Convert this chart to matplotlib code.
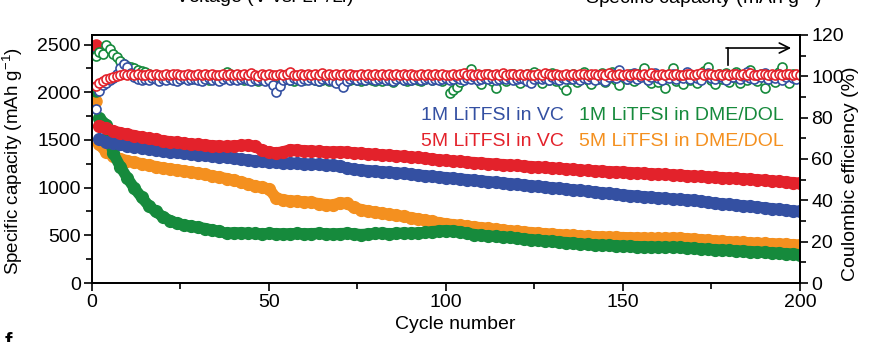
import numpy as np
import matplotlib
matplotlib.use('Agg')
import matplotlib.pyplot as plt
from matplotlib.ticker import MultipleLocator

plt.rcParams['font.family'] = ['Liberation Sans', 'DejaVu Sans']
plt.rcParams['mathtext.fontset'] = 'custom'
plt.rcParams['mathtext.rm'] = 'Liberation Sans'
plt.rcParams['mathtext.default'] = 'regular'

# capacity read every 2nd cycle (2, 4, ..., 200)
cap_cycles = np.arange(2, 201, 2)
cap_5m_vc = [1650, 1620, 1595, 1575, 1560, 1545, 1530, 1515, 1505, 1492,
             1482, 1474, 1466, 1458, 1452, 1446, 1440, 1436, 1432, 1438,
             1442, 1446, 1432, 1392, 1372, 1365, 1375, 1398, 1392, 1388,
             1384, 1380, 1376, 1374, 1377, 1372, 1366, 1360, 1354, 1349,
             1344, 1339, 1334, 1328, 1322, 1316, 1308, 1300, 1292, 1285,
             1279, 1274, 1268, 1263, 1257, 1252, 1247, 1242, 1237, 1232,
             1226, 1221, 1216, 1211, 1206, 1201, 1196, 1190, 1185, 1180,
             1176, 1172, 1168, 1165, 1162, 1158, 1154, 1150, 1146, 1142,
             1138, 1134, 1130, 1126, 1121, 1117, 1113, 1109, 1105, 1101,
             1097, 1093, 1088, 1083, 1077, 1071, 1065, 1059, 1053, 1046]
cap_1m_vc = [1505, 1482, 1466, 1452, 1440, 1428, 1417, 1406, 1396, 1386,
             1377, 1369, 1361, 1353, 1346, 1339, 1331, 1323, 1316, 1307,
             1299, 1291, 1283, 1276, 1268, 1264, 1260, 1256, 1253, 1249,
             1246, 1243, 1239, 1234, 1226, 1204, 1192, 1186, 1179, 1173,
             1167, 1161, 1155, 1149, 1141, 1133, 1126, 1119, 1112, 1105,
             1098, 1091, 1084, 1077, 1070, 1063, 1056, 1049, 1042, 1035,
             1028, 1020, 1013, 1006, 999, 992, 984, 977, 970, 962,
             955, 947, 940, 931, 923, 917, 911, 905, 899, 893,
             887, 881, 876, 872, 868, 858, 846, 838, 831, 824,
             817, 810, 803, 796, 788, 780, 772, 764, 757, 750]
cap_5m_dme = [1455, 1372, 1332, 1302, 1282, 1266, 1251, 1236, 1221, 1207,
              1196, 1186, 1176, 1164, 1152, 1138, 1124, 1110, 1095, 1078,
              1060, 1040, 1018, 1002, 988, 892, 872, 862, 857, 851,
              846, 833, 822, 816, 842, 834, 792, 770, 756, 743,
              731, 720, 709, 698, 686, 673, 660, 646, 633, 621,
              612, 604, 596, 588, 580, 572, 564, 556, 548, 541,
              535, 529, 523, 517, 512, 507, 503, 499, 494, 490,
              487, 484, 481, 479, 477, 475, 473, 471, 469, 467,
              469, 472, 470, 465, 460, 455, 449, 443, 438, 433,
              429, 425, 421, 418, 415, 412, 409, 406, 402, 398]
cap_1m_dme = [1730, 1660, 1360, 1220, 1100, 992, 900, 812, 750, 694,
              655, 628, 608, 596, 585, 571, 556, 542, 520, 528,
              526, 522, 519, 516, 520, 518, 515, 517, 520, 516,
              518, 521, 517, 514, 518, 522, 516, 508, 514, 519,
              522, 518, 520, 524, 521, 526, 530, 538, 546, 550,
              545, 538, 522, 508, 500, 494, 488, 483, 478, 470,
              462, 455, 448, 442, 436, 430, 424, 418, 411, 404,
              400, 397, 394, 391, 388, 385, 382, 380, 378, 376,
              375, 376, 373, 368, 364, 359, 354, 350, 346, 342,
              338, 334, 330, 326, 322, 318, 313, 308, 303, 298]
# first cycle capacity: 5M VC, 1M VC, 1M DME/DOL, 5M DME/DOL
cap_first = [2490, 2440, 2010, 1910]

# coulombic efficiency, every cycle 1..200
ce_cycles = np.arange(1, 201)
ce_5m_vc = [95.5, 97.0, 97.5, 98.5, 99.0, 99.5, 100.0, 100.5, 101.0, 100.5, 101.0, 100.5, 101.2, 100.8, 100.5, 101.0, 100.6, 101.2, 100.8, 100.4,
            101.0, 100.6, 100.9, 101.3, 100.7, 100.4, 101.0, 100.8, 100.5, 101.1, 100.7, 100.9, 100.4, 101.0, 100.8, 100.6, 101.2, 100.7, 100.9, 100.5,
            101.0, 100.7, 101.3, 100.6, 101.5, 100.8, 100.2, 100.9, 100.6, 101.0, 100.4, 100.8, 101.0, 100.6, 101.3, 102.2, 100.8, 100.5, 101.0, 100.7,
            100.9, 100.4, 101.0, 100.8, 101.4, 100.6, 100.9, 100.5, 101.1, 100.7, 101.0, 100.4, 101.2, 100.8, 100.6, 101.0, 100.7, 101.3, 100.5, 100.9,
            100.6, 101.0, 100.8, 101.2, 100.5, 100.9, 100.7, 101.1, 100.4, 101.0, 100.8, 100.6, 101.2, 100.7, 100.9, 100.5, 101.0, 100.8, 101.3, 100.6,
            100.8, 101.2, 100.5, 100.9, 101.4, 100.6, 101.0, 100.7, 101.3, 100.5, 100.9, 101.1, 100.6, 101.0, 100.8, 101.4, 100.5, 100.9, 101.2, 100.7,
            101.0, 100.6, 101.3, 100.8, 100.5, 101.1, 100.7, 101.4, 100.9, 100.6, 101.2, 100.8, 100.5, 101.0, 100.7, 101.3, 100.6, 100.9, 101.1, 100.5,
            100.9, 101.2, 100.6, 101.0, 100.8, 101.5, 100.7, 100.4, 101.1, 100.8, 101.3, 100.6, 100.9, 101.2, 100.5, 101.0, 100.7, 101.4, 100.8, 100.6,
            101.1, 100.7, 101.0, 100.5, 101.3, 100.8, 100.6, 101.2, 100.9, 100.5, 101.0, 101.4, 100.7, 100.9, 101.2, 100.6, 101.0, 100.8, 101.3, 100.5,
            100.9, 101.1, 100.6, 101.0, 100.8, 101.4, 100.7, 100.5, 101.2, 100.9, 100.6, 101.3, 100.8, 101.0, 100.5, 101.2, 100.9, 100.7, 101.1, 100.4]
ce_1m_vc = [84.0, 93.0, 96.0, 97.0, 98.0, 99.0, 101.0, 104.0, 106.0, 104.5, 101.5, 99.5, 98.5, 98.0, 98.8, 98.2, 99.0, 98.5, 97.8, 98.6,
            98.2, 99.0, 98.4, 97.8, 98.6, 99.2, 98.0, 98.5, 98.9, 98.1, 97.7, 98.6, 99.0, 98.3, 98.7, 97.9, 98.5, 99.1, 98.2, 98.8,
            98.0, 98.6, 99.3, 98.4, 97.8, 98.9, 98.2, 98.6, 97.6, 98.4, 96.0, 92.5, 95.5, 98.0, 98.8, 98.3, 99.0, 98.5, 97.9, 98.6,
            98.2, 99.1, 98.4, 97.8, 98.7, 99.0, 98.3, 97.6, 96.8, 97.5, 95.0, 97.8, 98.6, 99.0, 98.4, 98.8, 98.1, 99.2, 98.5, 98.0,
            98.7, 99.1, 98.3, 98.8, 97.9, 98.5, 99.2, 98.4, 98.9, 98.1, 98.6, 99.3, 98.2, 98.7, 99.0, 98.4, 98.8, 98.0, 98.6, 99.1,
            98.3, 98.9, 99.5, 98.6, 98.0, 99.2, 98.7, 99.6, 98.4, 98.9, 99.3, 98.5, 99.0, 98.2, 98.8, 99.4, 98.6, 99.1, 98.3, 98.9,
            99.2, 98.5, 97.8, 96.8, 98.6, 99.4, 98.8, 99.1, 98.4, 99.7, 98.9, 98.3, 99.2, 98.6, 99.5, 98.7, 99.0, 98.2, 99.3, 98.8,
            99.6, 98.4, 100.5, 98.9, 97.9, 99.8, 101.0, 99.2, 103.0, 100.2, 98.6, 99.5, 101.5, 98.8, 99.9, 100.8, 98.4, 99.6, 101.8, 99.1,
            98.2, 100.4, 99.0, 101.2, 98.7, 100.0, 99.3, 102.0, 98.9, 100.6, 99.4, 98.3, 100.9, 101.6, 99.0, 98.6, 100.3, 99.7, 98.1, 100.7,
            99.5, 101.3, 98.8, 100.1, 102.0, 99.2, 98.5, 100.8, 99.6, 101.5, 98.9, 100.2, 99.0, 101.0, 98.4, 99.8, 100.6, 99.3, 98.7, 100.4]
ce_1m_dme = [110.0, 112.0, 111.0, 115.0, 113.0, 111.0, 109.5, 107.5, 106.0, 105.0, 104.5, 104.0, 103.0, 102.5, 102.0, 101.0, 100.5, 99.5, 100.0, 99.0,
             99.6, 98.8, 99.4, 100.2, 98.6, 99.3, 99.9, 98.5, 99.2, 100.0, 98.9, 99.5, 98.3, 99.1, 99.8, 98.7, 100.6, 102.2, 101.0, 99.4,
             98.6, 99.2, 98.0, 98.8, 99.5, 98.3, 97.8, 98.9, 99.3, 98.5, 98.1, 98.7, 99.4, 98.2, 98.9, 98.4, 97.9, 98.6, 99.0, 98.1,
             98.7, 99.2, 98.4, 97.6, 98.2, 98.9, 97.8, 98.5, 99.1, 98.0, 98.6, 97.5, 98.3, 98.9, 98.1, 97.7, 98.4, 99.0, 98.2, 97.6,
             98.5, 97.9, 98.8, 98.2, 97.4, 98.6, 99.1, 98.0, 97.6, 98.4, 99.2, 98.1, 97.8, 98.7, 99.5, 98.3, 100.2, 98.9, 97.6, 99.4,
             91.8, 93.5, 95.0, 97.2, 99.8, 101.5, 103.5, 100.6, 98.2, 96.5, 99.4, 101.2, 97.6, 94.4, 98.8, 100.5, 97.9, 99.6, 101.3, 98.4,
             96.8, 99.5, 101.0, 97.4, 102.3, 99.0, 96.6, 100.4, 98.1, 101.6, 97.8, 99.3, 95.6, 93.4, 98.7, 100.9, 97.3, 99.8, 102.3, 98.0,
             96.4, 100.6, 98.9, 101.8, 97.1, 99.4, 102.0, 98.3, 96.0, 100.8, 98.6, 101.2, 97.5, 99.7, 101.5, 104.0, 98.2, 96.8, 100.3, 97.4,
             99.8, 94.4, 101.0, 104.0, 97.6, 99.2, 96.5, 101.7, 98.4, 100.6, 97.0, 99.5, 102.4, 104.7, 98.1, 96.2, 100.9, 98.7, 101.4, 97.3,
             99.6, 102.2, 96.9, 100.5, 98.2, 103.0, 99.1, 97.5, 101.3, 94.4, 98.8, 100.4, 97.2, 102.1, 104.7, 98.6, 96.6, 101.0, 99.3, 100.8]

labels = ['1M LiTFSI in VC', '1M LiTFSI in DME/DOL', '5M LiTFSI in VC', '5M LiTFSI in DME/DOL']

RED = '#E3222B'
BLUE = '#3450A2'
GREEN = '#168A3C'
ORANGE = '#F4901F'

fig = plt.figure(figsize=(8.72, 3.42), dpi=100)
ax = fig.add_axes([0.1055, 0.1725, 0.8119, 0.7252])
ax2 = ax.twinx()

# capacity bands (thick line + filled markers so they merge into a band)
for vals, col in [(cap_5m_dme, ORANGE), (cap_1m_dme, GREEN), (cap_1m_vc, BLUE), (cap_5m_vc, RED)]:
    ax.plot(cap_cycles, vals, '-', color=col, lw=8, solid_capstyle='round', solid_joinstyle='round')
    ax.plot(cap_cycles, vals, 'o', color=col, ms=8.5, mec=col, lw=0)
ax.plot([1], [cap_first[3]], 'o', color=ORANGE, ms=8)
ax.plot([1], [cap_first[2]], 'o', color=GREEN, ms=8)
ax.plot([1], [cap_first[1]], 'o', color=BLUE, ms=8)
ax.plot([1], [cap_first[0]], 'o', color=RED, ms=8)

# coulombic efficiency
for vals, col in [(ce_1m_dme, GREEN), (ce_1m_vc, BLUE), (ce_5m_vc, RED)]:
    ax2.plot(ce_cycles, vals, 'o', mfc='white', mec=col, ms=6.5, mew=1.2, lw=0)

ax.set_xlim(0, 200)
ax.set_ylim(0, 2600)
ax2.set_ylim(0, 120)

ax.xaxis.set_major_locator(MultipleLocator(50))
ax.xaxis.set_minor_locator(MultipleLocator(25))
ax.yaxis.set_major_locator(MultipleLocator(500))
ax.yaxis.set_minor_locator(MultipleLocator(250))
ax2.yaxis.set_major_locator(MultipleLocator(20))
ax2.yaxis.set_minor_locator(MultipleLocator(10))

for a in (ax, ax2):
    a.tick_params(which='major', direction='out', length=6, width=1.2, labelsize=14, pad=2)
    a.tick_params(which='minor', direction='out', length=4, width=1.2)
    for s in a.spines.values():
        s.set_linewidth(1.3)
ax.tick_params(top=False, right=False)
ax.tick_params(which='minor', top=False, right=False)

ax.set_xlabel('Cycle number', fontsize=14)
ax.set_ylabel('Specific capacity (mAh g$^{-1}$)', fontsize=13.5)
ax2.set_ylabel('Coulombic efficiency (%)', fontsize=14)
ax.xaxis.set_label_coords(0.513, -0.135)
ax.yaxis.set_label_coords(-0.094, 0.49)
ax2.yaxis.set_label_coords(1.06, 0.44)

# series labels
ax.text(93, 1760, labels[0], color=BLUE, fontsize=14, va='center')
ax.text(137.5, 1760, labels[1], color=GREEN, fontsize=14, va='center')
ax.text(93, 1480, labels[2], color=RED, fontsize=14, va='center')
ax.text(137.5, 1480, labels[3], color=ORANGE, fontsize=14, va='center')

# arrow pointing to right axis
ax2.plot([179.7, 179.7], [105.5, 113.7], color='black', lw=1.2)
ax2.annotate('', xy=(197.5, 113.7), xytext=(179.1, 113.7),
             arrowprops=dict(arrowstyle='->', lw=1.2, color='black',
                             shrinkA=0, shrinkB=0, mutation_scale=18))

# cut-off texts from neighbouring panels
fig.text(175 / 872, 1 - 3 / 342, 'Voltage (V vs. Li$^{+}$/Li)', fontsize=14, va='baseline', ha='left')
fig.text(822 / 872, 1 - 3 / 342, 'Specific capacity (mAh g$^{-1}$)', fontsize=14, va='baseline', ha='right')
fig.text(0.005, 1 - 332 / 342, 'f', fontsize=16, fontweight='bold', va='top')

plt.savefig('out.png', dpi=100)
